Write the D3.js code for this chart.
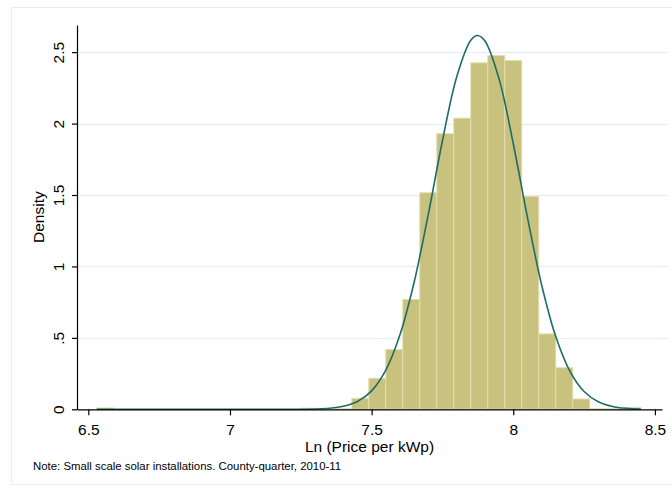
<!DOCTYPE html>
<html>
<head>
<meta charset="utf-8">
<script src="https://cdn.jsdelivr.net/npm/d3@7"></script>
<style>
  html, body { margin: 0; padding: 0; background: #fff; }
  svg { display: block; font-family: "Liberation Sans", Arial, Helvetica, sans-serif; }
</style>
</head>
<body>
<svg id="chart" width="672" height="488"></svg>
<script>
// ---- Data ----
const binStart = 6.53;
const binWidth = 0.06;
const densities = [
  0.009, 0, 0, 0, 0, 0, 0, 0, 0, 0, 0, 0,
  0.008, 0, 0.004, 0.077, 0.217, 0.419, 0.769, 1.516,
  1.929, 2.038, 2.425, 2.476, 2.441, 1.491, 0.528, 0.291,
  0.072, 0.004, 0.004, 0.014
];
const curveX = [6.53, 7.0, 7.2, 7.25, 7.30, 7.35, 7.40, 7.45, 7.50, 7.55, 7.60, 7.65, 7.70, 7.75, 7.80, 7.85, 7.874,
                7.90, 7.95, 8.00, 8.05, 8.10, 8.15, 8.20, 8.25, 8.30, 8.35, 8.40, 8.45];
const curveY = [0, 0, 0.0001, 0.0006, 0.0022, 0.0071, 0.0209, 0.0549, 0.129, 0.274, 0.521, 0.889, 1.364, 1.880, 2.325, 2.584, 2.616,
                2.578, 2.311, 1.859, 1.344, 0.872, 0.509, 0.266, 0.125, 0.0529, 0.0200, 0.0068, 0.0021];
const xTicks = [6.5, 7, 7.5, 8, 8.5];
const xTickLabels = ["6.5", "7", "7.5", "8", "8.5"];
const yTicks = [0, 0.5, 1, 1.5, 2, 2.5];
const yTickLabels = ["0", ".5", "1", "1.5", "2", "2.5"];
const xTitle = "Ln (Price per kWp)";
const yTitle = "Density";
const note = "Note: Small scale solar installations. County-quarter, 2010-11";

// ---- Layout ----
const svg = d3.select("#chart");
const pL = 77, pR = 662, pT = 25, pB = 409.3;
const x = d3.scaleLinear().domain([6.46, 8.525]).range([pL, pR]);
const y = d3.scaleLinear().domain([0, 2.69]).range([pB, pT]);

// outer faint frame
svg.append("rect").attr("x", 11.5).attr("y", 7.5).attr("width", 700).attr("height", 477)
  .attr("fill", "none").attr("stroke", "#e9eded").attr("stroke-width", 1);

// gridlines
svg.append("g").selectAll("line").data(yTicks.filter(d => d > 0)).join("line")
  .attr("x1", pL).attr("x2", 668)
  .attr("y1", d => Math.round(y(d)) + 0.5).attr("y2", d => Math.round(y(d)) + 0.5)
  .attr("stroke", "#e6f0f2").attr("stroke-width", 1.3);

// bars
const bins = densities.map((d, i) => ({ x0: binStart + i * binWidth, x1: binStart + (i + 1) * binWidth, d }));
svg.append("g").selectAll("rect").data(bins.filter(b => b.d > 0)).join("rect")
  .attr("x", b => x(b.x0)).attr("width", b => x(b.x1) - x(b.x0))
  .attr("y", b => y(b.d)).attr("height", b => y(0) - y(b.d))
  .attr("fill", "#c9c27e").attr("stroke", "#e2deb0").attr("stroke-width", 0.9);

// normal curve
const pts = curveX.map((v, i) => [v, curveY[i]]);
svg.append("path").datum(pts)
  .attr("d", d3.line().x(d => x(d[0])).y(d => y(d[1])).curve(d3.curveCatmullRom.alpha(0.5)))
  .attr("fill", "none").attr("stroke", "#1f6b68").attr("stroke-width", 1.6);

// x axis
const xAxis = svg.append("g").attr("transform", `translate(0,${pB})`)
  .call(d3.axisBottom(x).tickValues(xTicks).tickFormat((d, i) => xTickLabels[i]).tickSize(6).tickSizeOuter(0).tickPadding(9));
xAxis.select(".domain").attr("stroke", "#000").attr("stroke-width", 1.2);
xAxis.selectAll(".tick line").attr("stroke", "#000").attr("stroke-width", 1.2);
xAxis.selectAll(".tick text").attr("font-size", 15.5).attr("fill", "#000");

// y axis
const yAxis = svg.append("g").attr("transform", `translate(${pL},0)`)
  .call(d3.axisLeft(y).tickValues(yTicks).tickFormat((d, i) => yTickLabels[i]).tickSize(5).tickSizeOuter(0));
yAxis.select(".domain").attr("stroke", "#000").attr("stroke-width", 1.2);
yAxis.selectAll(".tick line").attr("stroke", "#000").attr("stroke-width", 1.2);
yAxis.selectAll(".tick text")
  .attr("x", null).attr("dy", null)
  .attr("transform", "translate(-13.5,0) rotate(-90)")
  .attr("text-anchor", "middle")
  .attr("font-size", 15.5).attr("fill", "#000");

// titles
svg.append("text").attr("x", (pL + pR) / 2).attr("y", 452)
  .attr("text-anchor", "middle").attr("font-size", 15.5).attr("fill", "#000").text(xTitle);
svg.append("text").attr("transform", `translate(44,${(pT + pB) / 2}) rotate(-90)`)
  .attr("text-anchor", "middle").attr("font-size", 15.5).attr("fill", "#000").text(yTitle);
svg.append("text").attr("x", 33).attr("y", 470)
  .attr("font-size", 11.4).attr("fill", "#000").text(note);
</script>
</body>
</html>
